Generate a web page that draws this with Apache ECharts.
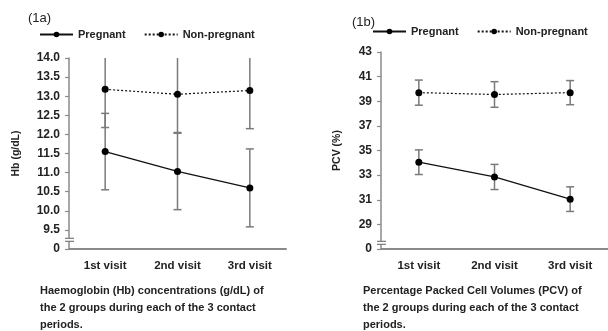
<!DOCTYPE html>
<html>
<head>
<meta charset="utf-8">
<script src="https://cdn.jsdelivr.net/npm/echarts@6/dist/echarts.min.js"></script>
<style>
  html, body { margin: 0; padding: 0; background: #fff; }
  #main { width: 608px; height: 331px; }
</style>
</head>
<body>
<div id="main"></div>
<script>
const visits = ['1st visit', '2nd visit', '3rd visit']

// (1a) haemoglobin, g/dL (mean and error)
const hbPregnant = [11.55, 11.03, 10.6]
const hbPregnantErr = [1.0, 1.0, 1.02]
const hbNonPregnant = [13.18, 13.05, 13.15]
const hbNonPregnantErr = [1.0, 1.0, 1.0]
const hbTickLabels = ['0', '9.5', '10.0', '10.5', '11.0', '11.5', '12.0', '12.5', '13.0', '13.5', '14.0']

// (1b) packed cell volume, %
const pcvPregnant = [34.05, 32.85, 31.05]
const pcvPregnantErr = [1.0, 1.02, 1.0]
const pcvNonPregnant = [39.7, 39.55, 39.7]
const pcvNonPregnantErr = [1.02, 1.04, 0.98]
const pcvTickLabels = ['0', '29', '31', '33', '35', '37', '39', '41', '43']

const FONT = 'Liberation Sans, Arial, sans-serif'
const TXT = '#222'

function errRows (mean, err) {
  return mean.map((m, i) => [i, m - err[i], m + err[i]])
}

// vertical whisker with caps
function errorBarItem (params, api) {
  const x = api.value(0)
  const lo = api.coord([x, api.value(1)])
  const hi = api.coord([x, api.value(2)])
  const w = 4
  const style = { stroke: '#7a7a7a', lineWidth: 1.5 }
  return {
    type: 'group',
    children: [
      { type: 'line', shape: { x1: lo[0], y1: lo[1], x2: hi[0], y2: hi[1] }, style },
      { type: 'line', shape: { x1: lo[0] - w, y1: lo[1], x2: lo[0] + w, y2: lo[1] }, style },
      { type: 'line', shape: { x1: hi[0] - w, y1: hi[1], x2: hi[0] + w, y2: hi[1] }, style }
    ]
  }
}

// "=" axis break drawn on the y axis line
function breakItem (params, api) {
  const x = params.coordSys.x
  const y = api.coord([0, api.value(1)])[1]
  const style = { stroke: '#7a7a7a', lineWidth: 1.2 }
  return {
    type: 'group',
    children: [
      { type: 'rect', shape: { x: x - 2, y: y - 1.5, width: 4, height: 3 }, style: { fill: '#fff' } },
      { type: 'line', shape: { x1: x - 4, y1: y - 1.5, x2: x + 5, y2: y - 1.5 }, style },
      { type: 'line', shape: { x1: x - 4, y1: y + 1.5, x2: x + 5, y2: y + 1.5 }, style }
    ]
  }
}

function lineSeries (name, data, idx, dotted) {
  return {
    name: name,
    type: 'line',
    xAxisIndex: idx,
    yAxisIndex: idx,
    data: data,
    symbol: 'circle',
    symbolSize: 7,
    z: 5,
    itemStyle: { color: '#000' },
    lineStyle: { color: '#111', width: dotted ? 1.2 : 1.3, type: dotted ? [2, 2] : 'solid' },
    animation: false
  }
}

function barSeries (rows, idx) {
  return {
    type: 'custom',
    xAxisIndex: idx,
    yAxisIndex: idx,
    data: rows,
    renderItem: errorBarItem,
    clip: true,
    z: 2,
    silent: true,
    animation: false
  }
}

function yAxisOf (idx, min, max, interval, labels, name, gap) {
  return {
    type: 'value',
    gridIndex: idx,
    min: min,
    max: max,
    interval: interval,
    name: name,
    nameLocation: 'middle',
    nameRotate: 90,
    nameGap: gap,
    nameTextStyle: { color: TXT, fontFamily: FONT, fontWeight: 'bold', fontSize: 10.5 },
    axisLine: { show: true, lineStyle: { color: '#8a8a8a', width: 1.5 } },
    axisTick: { show: true, length: 4, lineStyle: { color: '#8a8a8a', width: 1.2 } },
    splitLine: { show: false },
    axisLabel: {
      color: TXT, fontFamily: FONT, fontWeight: 'bold', fontSize: 12, margin: 9,
      formatter: (v, i) => labels[i]
    }
  }
}

function xAxisOf (idx) {
  return {
    type: 'category',
    gridIndex: idx,
    data: visits,
    boundaryGap: true,
    axisLine: { show: true, lineStyle: { color: '#8a8a8a', width: 2 } },
    axisTick: { show: false },
    axisLabel: { color: TXT, fontFamily: FONT, fontWeight: 'bold', fontSize: 11.5, margin: 11 }
  }
}

function legendOf (left, top) {
  return {
    left: left,
    top: top,
    padding: 0,
    itemWidth: 33,
    itemHeight: 7,
    itemGap: 18,
    data: ['Pregnant', 'Non-pregnant'],
    textStyle: { color: TXT, fontFamily: FONT, fontWeight: 'bold', fontSize: 11 },
    selectedMode: false
  }
}

const captionStyle = { color: TXT, fontFamily: FONT, fontWeight: 'bold', fontSize: 11, lineHeight: 17 }
const tagStyle = { color: TXT, fontFamily: FONT, fontWeight: 'normal', fontSize: 13 }

const chart = echarts.init(document.getElementById('main'))

chart.setOption({
  backgroundColor: '#fff',
  animation: false,
  title: [
    { text: '(1a)', left: 28, top: 12, padding: 0, textStyle: tagStyle },
    { text: '(1b)', left: 352, top: 16, padding: 0, textStyle: tagStyle },
    { text: 'Haemoglobin (Hb) concentrations (g/dL) of\nthe 2 groups during each of the 3 contact\nperiods.', left: 40, top: 282, padding: 0, textStyle: captionStyle },
    { text: 'Percentage Packed Cell Volumes (PCV) of\nthe 2 groups during each of the 3 contact\nperiods.', left: 363, top: 282, padding: 0, textStyle: captionStyle }
  ],
  legend: [legendOf(39, 29), legendOf(372, 26)],
  grid: [
    { left: 69, top: 58, width: 217, bottom: 82 },
    { left: 381, top: 52, width: 231, bottom: 82 }
  ],
  xAxis: [xAxisOf(0), xAxisOf(1)],
  yAxis: [
    yAxisOf(0, 9, 14, 0.5, hbTickLabels, 'Hb (g/dL)', 47),
    yAxisOf(1, 27, 43, 2, pcvTickLabels, 'PCV (%)', 38)
  ],
  series: [
    barSeries(errRows(hbPregnant, hbPregnantErr), 0),
    barSeries(errRows(hbNonPregnant, hbNonPregnantErr), 0),
    lineSeries('Pregnant', hbPregnant, 0, false),
    lineSeries('Non-pregnant', hbNonPregnant, 0, true),
    barSeries(errRows(pcvPregnant, pcvPregnantErr), 1),
    barSeries(errRows(pcvNonPregnant, pcvNonPregnantErr), 1),
    lineSeries('Pregnant', pcvPregnant, 1, false),
    lineSeries('Non-pregnant', pcvNonPregnant, 1, true),
    { type: 'custom', xAxisIndex: 0, yAxisIndex: 0, data: [[0, 9.24]], renderItem: breakItem, clip: false, z: 6, silent: true },
    { type: 'custom', xAxisIndex: 1, yAxisIndex: 1, data: [[0, 27.5]], renderItem: breakItem, clip: false, z: 6, silent: true }
  ]
})
</script>
</body>
</html>
